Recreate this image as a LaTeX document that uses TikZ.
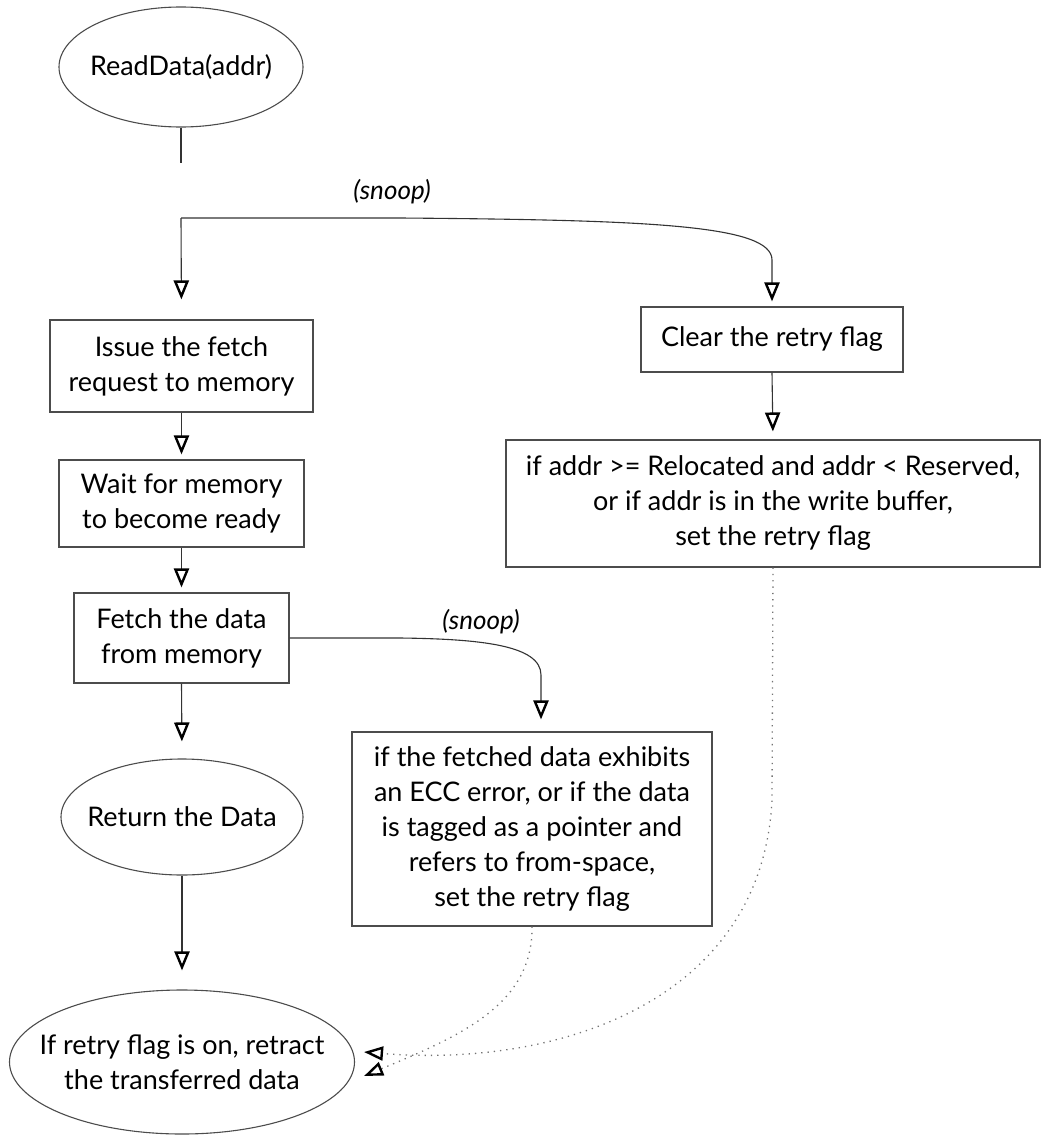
\documentclass[tikz,border=0pt]{standalone}
\usepackage{fontspec}
\setmainfont{Lato}
\usetikzlibrary{arrows.meta,shapes.geometric,calc}

\begin{document}
\begin{tikzpicture}[x=1pt,y=-1pt,
  every node/.style={font=\fontsize{27}{35}\selectfont, text=black},
  stepbox/.style={draw=black!70, line width=1.1pt, align=center, inner sep=0pt},
  oval/.style={ellipse, draw=black!70, line width=1.1pt, align=center,
    inner xsep=-60pt, inner ysep=0pt},
  link/.style={draw=black!80, line width=1.1pt},
  opentip/.style={-{Triangle[open,length=19pt,width=15pt,line width=2.4pt,color=black]}},
  flow/.style={link, opentip},
  hint/.style={draw=black!55, line width=1.3pt, dash pattern=on 1.3pt off 5pt,
    -{Triangle[open,length=19pt,width=14pt,line width=2.4pt,color=black]}},
  tag/.style={font=\fontsize{26}{35}\selectfont\itshape},
]
\useasboundingbox (0,0) rectangle (1041,1135);

% --- left column
\node[oval, minimum width=244pt, minimum height=120pt] (rd) at (181,67) {ReadData(addr)};
\node[stepbox, minimum width=263pt, minimum height=92pt] (issue) at (181.5,366)
  {Issue the fetch\\request to memory};
\node[stepbox, minimum width=245pt, minimum height=87pt] (wait) at (181.5,503.5)
  {Wait for memory\\to become ready};
\node[stepbox, minimum width=215pt, minimum height=90pt] (fetch) at (181.5,638)
  {Fetch the data\\from memory};
\node[oval, minimum width=242pt, minimum height=116pt] (ret) at (182,817) {Return the Data};
\node[oval, minimum width=345pt, minimum height=144pt] (fin) at (182,1062)
  {If retry flag is on, retract\\the transferred data};

% --- right column
\node[stepbox, minimum width=262pt, minimum height=65pt] (clr) at (772,339.5)
  {Clear the retry flag};
\node[stepbox, minimum width=534pt, minimum height=127pt] (chk) at (773,503.5)
  {if addr >= Relocated and addr < Reserved,\\or if addr is in the write buffer,\\set the retry flag};
\node[stepbox, minimum width=360pt, minimum height=194pt] (ecc) at (532,829)
  {if the fetched data exhibits\\an ECC error, or if the data\\is tagged as a pointer and\\refers to from-space,\\set the retry flag};

% --- labels
\node[tag] (snoopA) at (392,192) {(snoop)};
\node[tag] (snoopB) at (481,622) {(snoop)};

% --- fork below ReadData
\coordinate (stem) at (181,163);
\coordinate (fork) at (181,218);
\draw[link] (rd.south) -- (stem);
\draw[flow, shorten >=20pt] (fork) -- (issue.north);
\draw[flow, shorten >=5pt] (fork) -- (400,218) .. controls (650,220) and (772,225) .. (772,260) -- (clr.north);

% --- main sequence
\draw[flow, shorten >=5pt] (issue.south) -- (wait.north);
\draw[flow, shorten >=5pt] (wait.south) -- (fetch.north);
\draw[flow, shorten >=17pt] (fetch.south) -- (ret.north);
\draw[flow, shorten >=19pt] (ret.south) -- (fin.north);
\draw[flow, shorten >=8pt] (clr.south) -- (chk.north);
\draw[flow, shorten >=12pt] (fetch.east) -- (400,638) .. controls (480,639) and (541,645) .. (541,675) -- (ecc.north -| 541,0);

% --- retry checks feeding the final step
\draw[hint] (ecc.south) .. controls (533,1005) and (460,1036) .. ([xshift=9pt,yshift=-14pt]fin.east);
\draw[hint] (chk.south) -- (772,800) .. controls (762,1000) and (560,1068) .. ([xshift=9pt,yshift=10pt]fin.east);
\end{tikzpicture}
\end{document}
